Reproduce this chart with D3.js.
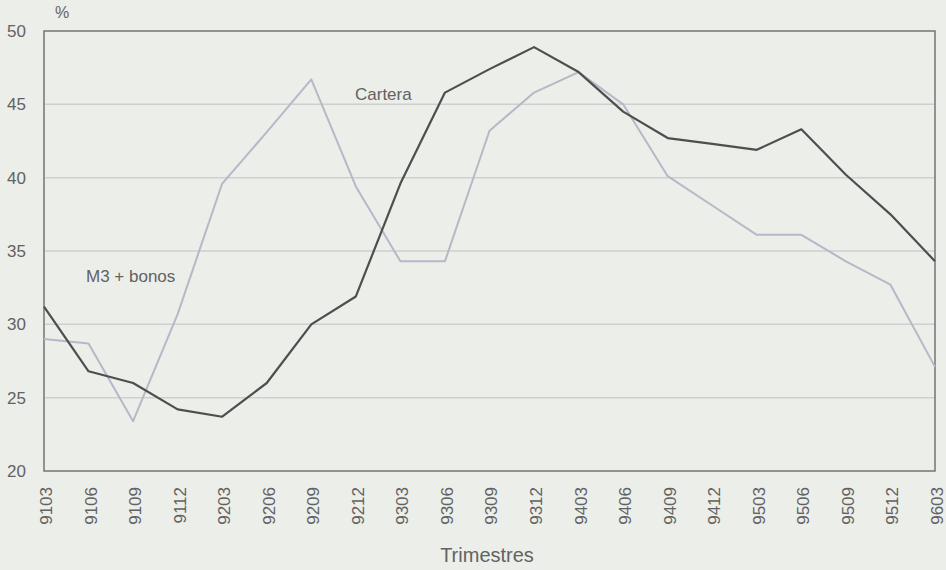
<!DOCTYPE html>
<html>
<head>
<meta charset="utf-8">
<script src="https://cdn.jsdelivr.net/npm/d3@7"></script>
<style>
  html, body { margin: 0; padding: 0; background: #eceeea; }
  svg { display: block; }
  text { font-family: "Liberation Sans", Arial, sans-serif; fill: #626262; }
</style>
</head>
<body>
<svg id="chart" width="946" height="570"></svg>
<script>
const quarters = ["9103","9106","9109","9112","9203","9206","9209","9212","9303","9306","9309","9312","9403","9406","9409","9412","9503","9506","9509","9512","9603"];
const cartera = [31.2, 26.8, 26.0, 24.2, 23.7, 26.0, 30.0, 31.9, 39.6, 45.8, 47.4, 48.9, 47.2, 44.5, 42.7, 42.3, 41.9, 43.3, 40.2, 37.5, 34.3];
const m3bonos = [29.0, 28.7, 23.4, 30.7, 39.6, 43.1, 46.7, 39.4, 34.3, 34.3, 43.2, 45.8, 47.2, 45.0, 40.1, 38.1, 36.1, 36.1, 34.3, 32.7, 27.1];
const yTicks = [20, 25, 30, 35, 40, 45, 50];

(function () {
const svg = d3.select("#chart");
const mLeft = 44, mRight = 935, mTop = 31, mBottom = 471;

const x = d3.scalePoint().domain(quarters).range([mLeft, mRight]).padding(0);
const y = d3.scaleLinear().domain([20, 50]).range([mBottom, mTop]);

svg.append("rect").attr("width", 946).attr("height", 570).attr("fill", "#eceeea");

// gridlines
svg.append("g").selectAll("line")
  .data(yTicks.filter(d => d > 20 && d < 50))
  .join("line")
  .attr("x1", mLeft).attr("x2", mRight)
  .attr("y1", d => y(d)).attr("y2", d => y(d))
  .attr("stroke", "#cdd0ce").attr("stroke-width", 1.5);

// frame
svg.append("rect")
  .attr("x", mLeft).attr("y", mTop)
  .attr("width", mRight - mLeft).attr("height", mBottom - mTop)
  .attr("fill", "none").attr("stroke", "#747474").attr("stroke-width", 1.5);

// y axis labels
const yAxis = d3.axisLeft(y).tickValues(yTicks).tickSize(0).tickPadding(0);
const gy = svg.append("g").attr("transform", "translate(26,0)").call(yAxis);
gy.select(".domain").remove();
gy.selectAll("text").attr("font-size", 17).attr("fill", "#626262")
  .style("font-family", "Liberation Sans, Arial, sans-serif");

// x axis labels
const xAxis = d3.axisBottom(x).tickSize(0).tickPadding(0);
const gx = svg.append("g").attr("transform", `translate(0,${mBottom})`).call(xAxis);
gx.select(".domain").remove();
gx.selectAll("text")
  .attr("font-size", 17).attr("fill", "#626262")
  .style("font-family", "Liberation Sans, Arial, sans-serif")
  .attr("text-anchor", "end")
  .attr("transform", "rotate(-90)")
  .attr("x", -16).attr("y", 1.5).attr("dy", "0.35em");

// lines
const line = d3.line().x((d, i) => x(quarters[i])).y(d => y(d));
svg.append("path").datum(m3bonos)
  .attr("d", line).attr("fill", "none")
  .attr("stroke", "#b4b9c7").attr("stroke-width", 2).attr("stroke-linejoin", "round");
svg.append("path").datum(cartera)
  .attr("d", line).attr("fill", "none")
  .attr("stroke", "#4e4e4e").attr("stroke-width", 2.2).attr("stroke-linejoin", "round");

// annotations
svg.append("text").attr("x", 355).attr("y", 100).attr("font-size", 17).text("Cartera");
svg.append("text").attr("x", 86).attr("y", 282).attr("font-size", 17).text("M3 + bonos");
svg.append("text").attr("x", 55).attr("y", 18).attr("font-size", 16).text("%");
svg.append("text").attr("x", 487).attr("y", 562).attr("font-size", 20)
  .attr("text-anchor", "middle").text("Trimestres");
})();
</script>
</body>
</html>
